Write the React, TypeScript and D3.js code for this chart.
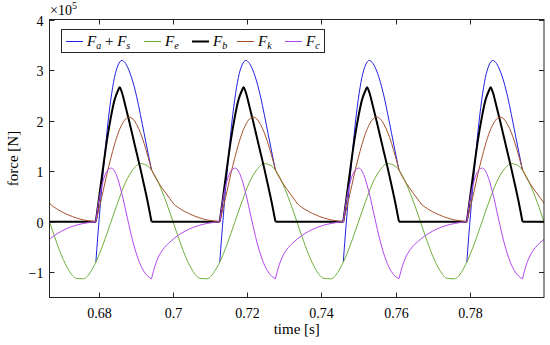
import React from "react";
import * as d3 from "d3";

const W = 550;
const H = 345;
const plot = { left: 49.5, right: 544, top: 19.5, bottom: 297.5 };

const xTicks = [0.68, 0.7, 0.72, 0.74, 0.76, 0.78];
const xTickLabels = ["0.68", "0.7", "0.72", "0.74", "0.76", "0.78"];
const yTicks = [-1, 0, 1, 2, 3, 4];
const yTickLabels = ["\u22121", "0", "1", "2", "3", "4"];

// contact onset of each impact cycle [s]
const onsets = [0.6459, 0.6792, 0.7126, 0.7459, 0.7792];

// [ms after onset, force x1e5 N]
const faFsContact = [
  [0, -0.8], [0.5, -0.3], [1, 0.15], [1.5, 0.6], [2, 1.0], [2.5, 1.4], [3, 1.78],
  [4, 2.4], [5, 2.85], [6, 3.1], [7, 3.19], [8, 3.13], [9, 2.98], [10, 2.76],
  [11, 2.47], [12, 2.12], [13, 1.75], [14, 1.38], [15, 1.02],
];
const feCycle = [
  [0, -0.8], [2, -0.44], [4, -0.02], [6, 0.4], [8, 0.78], [10, 1.03], [12, 1.15],
  [14, 1.1], [16, 0.9], [18, 0.57], [20, 0.17], [22, -0.26], [24, -0.66],
  [26, -0.96], [28, -1.12], [30, -1.13], [32, -0.98],
];
const fbContact = [
  [0, 0], [1, 0.55], [2, 1.1], [3, 1.62], [4, 2.05], [5, 2.4], [6, 2.6], [6.4, 2.66],
  [7, 2.56], [8, 2.28], [9, 1.98], [10, 1.67], [11, 1.36], [12, 1.05], [13, 0.72],
  [14, 0.38], [15, 0],
];
const fbFree = [[15, 0], [33.33, 0]];
const fkContact = [
  [0, 0], [1, 0.3], [2, 0.62], [3, 0.95], [4, 1.25], [5, 1.52], [6, 1.75], [7, 1.92],
  [8, 2.03], [8.9, 2.07], [10, 2.03], [11, 1.92], [12, 1.76], [13, 1.55], [14, 1.3],
  [15, 1.03],
];
const fkFree = [
  [15, 1.03], [16, 0.88], [17, 0.76], [18, 0.65], [19, 0.55], [20, 0.45], [21, 0.35],
  [22, 0.29], [24, 0.2], [26, 0.13], [28, 0.075], [30, 0.035], [33.33, 0],
];
const fcContact = [
  [0, 0], [0.5, 0.28], [1, 0.5], [2, 0.82], [3, 1.0], [4.2, 1.06], [5.5, 0.93],
  [7, 0.56], [8.5, 0.07], [10, -0.4], [11.5, -0.76], [13, -0.99], [14, -1.08],
  [15, -1.13],
];
const fcFree = [
  [15, -1.13], [16, -0.86], [17, -0.68], [18.5, -0.51], [20, -0.4], [22, -0.28],
  [24, -0.19], [26, -0.12], [28, -0.07], [30, -0.035], [33.33, 0],
];

const colors = {
  fafs: "#2020e0",
  fe: "#6fae3a",
  fb: "#000000",
  fk: "#a4502a",
  fc: "#b147ec",
};

const series = [
  { key: "fafs", width: 1, pieces: [faFsContact] },
  { key: "fe", width: 1, pieces: [] },
  { key: "fb", width: 2, pieces: [fbContact, fbFree] },
  { key: "fk", width: 1, pieces: [fkContact, fkFree] },
  { key: "fc", width: 1, pieces: [fcContact, fcFree] },
];

// legend: [symbol, subscript] pairs
const legendItems = [
  { key: "fafs", width: 1, terms: [["F", "a"], ["F", "s"]] },
  { key: "fe", width: 1, terms: [["F", "e"]] },
  { key: "fb", width: 2, terms: [["F", "b"]] },
  { key: "fk", width: 1, terms: [["F", "k"]] },
  { key: "fc", width: 1, terms: [["F", "c"]] },
];

const serif = "Liberation Serif";
const axisColor = "#262626";

export default function App() {
  const x = d3.scaleLinear().domain([0.6667, 0.8]).range([plot.left, plot.right]);
  const y = d3.scaleLinear().domain([-1.5, 4]).range([plot.bottom, plot.top]);
  const line = d3
    .line<number[]>()
    .x((d) => x(d[0]))
    .y((d) => y(d[1]))
    .curve(d3.curveMonotoneX);

  const shift = (piece: number[][], t0: number) =>
    piece.map(([ms, v]) => [t0 + ms / 1000, v]);

  const greenPts = onsets.flatMap((t0) => shift(feCycle, t0));

  const legendX = [66, 144, 192, 237, 285];

  return (
    <svg
      width={W}
      height={H}
      style={{ position: "absolute", left: 0, top: 0, background: "#fff", fontFamily: serif }}
    >
      <defs>
        <clipPath id="plotclip">
          <rect x={plot.left} y={plot.top} width={plot.right - plot.left} height={plot.bottom - plot.top} />
        </clipPath>
      </defs>
      <rect x={plot.left} y={plot.top} width={plot.right - plot.left} height={plot.bottom - plot.top} fill="#fff" />

      <g clipPath="url(#plotclip)" fill="none" strokeLinejoin="round">
        {series.map((s) => {
          const c = colors[s.key as keyof typeof colors];
          if (s.key === "fe") {
            return <path key={s.key} d={line(greenPts) || ""} stroke={c} strokeWidth={s.width} />;
          }
          return (
            <g key={s.key}>
              {onsets.flatMap((t0, i) =>
                s.pieces.map((p, j) => (
                  <path key={`${i}-${j}`} d={line(shift(p, t0)) || ""} stroke={c} strokeWidth={s.width} />
                ))
              )}
            </g>
          );
        })}
      </g>

      {/* axes box */}
      <rect
        x={plot.left}
        y={plot.top}
        width={plot.right - plot.left}
        height={plot.bottom - plot.top}
        fill="none"
        stroke={axisColor}
        strokeWidth={1}
      />
      {xTicks.map((t, i) => {
        const px = Math.round(x(t)) + 0.5;
        return (
          <g key={`xt${i}`}>
            <line x1={px} x2={px} y1={plot.bottom} y2={plot.bottom - 5} stroke={axisColor} />
            <line x1={px} x2={px} y1={plot.top} y2={plot.top + 5} stroke={axisColor} />
            <text x={px} y={plot.bottom + 20} textAnchor="middle" fontSize={14} fill="#000">
              {xTickLabels[i]}
            </text>
          </g>
        );
      })}
      {yTicks.map((t, i) => {
        const py = Math.round(y(t)) + 0.5;
        return (
          <g key={`yt${i}`}>
            <line x1={plot.left} x2={plot.left + 5} y1={py} y2={py} stroke={axisColor} />
            <line x1={plot.right} x2={plot.right - 5} y1={py} y2={py} stroke={axisColor} />
            <text x={plot.left - 6} y={py + 5} textAnchor="end" fontSize={14} fill="#000">
              {yTickLabels[i]}
            </text>
          </g>
        );
      })}

      {/* exponent */}
      <text x={50} y={15} fontSize={14} fill="#000">
        ×10
        <tspan dy={-6} fontSize={10}>5</tspan>
      </text>

      {/* axis labels */}
      <text x={(plot.left + plot.right) / 2} y={334} textAnchor="middle" fontSize={15} fill="#000">
        time [s]
      </text>
      <text
        transform={`translate(18,${(plot.top + plot.bottom) / 2}) rotate(-90)`}
        textAnchor="middle"
        fontSize={15}
        fill="#000"
      >
        force [N]
      </text>

      {/* legend */}
      <rect x={61.5} y={29.5} width={263} height={23} fill="#fff" stroke={axisColor} strokeWidth={1} />
      {legendItems.map((it, i) => {
        const lx = legendX[i];
        const c = colors[it.key as keyof typeof colors];
        return (
          <g key={`lg${i}`}>
            <line x1={lx} x2={lx + 17} y1={41.5} y2={41.5} stroke={c} strokeWidth={it.width} />
            <text x={lx + 21} y={46} fontSize={15} fill="#000">
              {it.terms.map(([sym, sub], k) => (
                <React.Fragment key={k}>
                  {k > 0 && <tspan dy={-3}>{" + "}</tspan>}
                  <tspan fontStyle="italic" dy={k > 0 ? 0 : 0}>{sym}</tspan>
                  <tspan fontStyle="italic" fontSize={10} dy={3}>{sub}</tspan>
                </React.Fragment>
              ))}
            </text>
          </g>
        );
      })}
    </svg>
  );
}
